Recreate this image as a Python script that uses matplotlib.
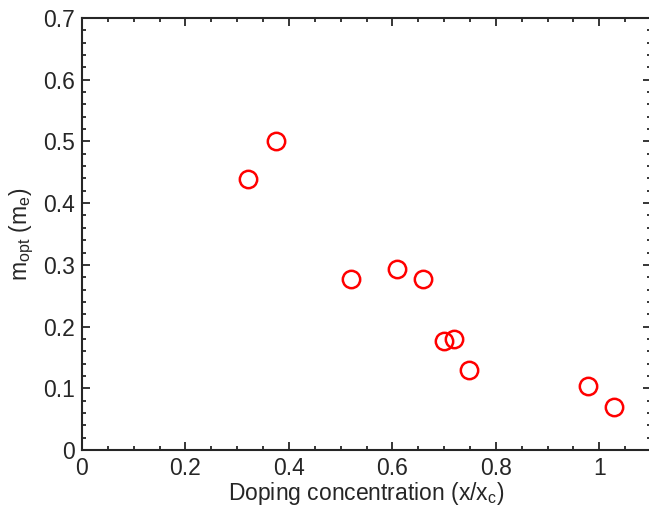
import matplotlib
matplotlib.use('Agg')
import numpy as np
from matplotlib import pyplot as plt, ticker

# Doping (x/x_c) and optical mass (m_e)
doping = [0.320, 0.375, 0.520, 0.609, 0.659, 0.700, 0.720, 0.749, 0.979, 1.029]
m_opt = [0.439, 0.500, 0.277, 0.293, 0.277, 0.177, 0.180, 0.129, 0.103, 0.069]

xticks = [0, 0.2, 0.4, 0.6, 0.8, 1]
xticklabels = ['0', '0.2', '0.4', '0.6', '0.8', '1']
yticks = [0, 0.1, 0.2, 0.3, 0.4, 0.5, 0.6, 0.7]
yticklabels = ['0', '0.1', '0.2', '0.3', '0.4', '0.5', '0.6', '0.7']

plt.rcParams['font.family'] = ['Liberation Sans', 'DejaVu Sans']
plt.rcParams['mathtext.fontset'] = 'custom'
plt.rcParams['mathtext.rm'] = 'Liberation Sans'
plt.rcParams['mathtext.it'] = 'Liberation Sans'

dark = '#262626'

fig = plt.figure(figsize=(6.49, 5.08), dpi=100)
ax = fig.add_axes([82 / 649, 58 / 508, 569 / 649, 432 / 508])

ax.plot(doping, m_opt, linestyle='none', marker='o', markersize=12.5,
        markerfacecolor='none', markeredgecolor='#ff0000', markeredgewidth=1.8)

ax.set_xlim(0, 1.1)
ax.set_ylim(0, 0.7)
ax.set_xticks(xticks)
ax.set_xticklabels(xticklabels)
ax.set_yticks(yticks)
ax.set_yticklabels(yticklabels)
ax.xaxis.set_minor_locator(ticker.MultipleLocator(0.05))
ax.yaxis.set_minor_locator(ticker.MultipleLocator(0.02))

ax.tick_params(which='both', direction='in', top=True, right=True,
               colors=dark, labelsize=16.5, width=1.3)
ax.tick_params(which='major', length=6, pad=5)
ax.tick_params(which='minor', length=3)
for side in ax.spines.values():
    side.set_color(dark)
    side.set_linewidth(1.5)

ax.set_xlabel('Doping concentration (x/x$_{\\rm c}$)', fontsize=16.5, color=dark, labelpad=0)
ax.set_ylabel('m$_{\\rm opt}$ (m$_{\\rm e}$)', fontsize=16.5, color=dark, labelpad=5)

fig.savefig('out.png', dpi=100)
